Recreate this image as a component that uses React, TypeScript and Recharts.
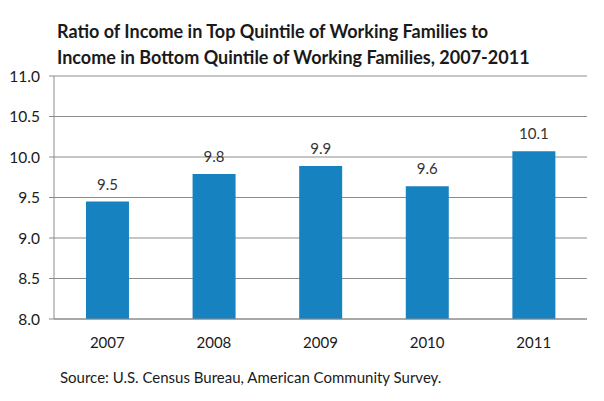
import React from "react";
import { BarChart, Bar, XAxis, YAxis, CartesianGrid, LabelList } from "recharts";

const years = ["2007", "2008", "2009", "2010", "2011"];
const ratios = [9.45, 9.79, 9.89, 9.64, 10.07];
const ratioLabels = ["9.5", "9.8", "9.9", "9.6", "10.1"];
const yTicks = [8.0, 8.5, 9.0, 9.5, 10.0, 10.5, 11.0];
const boundaryTicks = [0, 1, 2, 3, 4, 5];
const titleLines = [
  "Ratio of Income in Top Quintile of Working Families to",
  "Income in Bottom Quintile of Working Families, 2007-2011",
];
const sourceText = "Source: U.S. Census Bureau, American Community Survey.";

const data = years.map((y, i) => ({ year: y, ratio: ratios[i], label: ratioLabels[i] }));

const FONT = "Lato, 'Open Sans', sans-serif";
const GRID = "#8c8c8c";
const BAR = "#1782c0";

export default function App() {
  return (
    <div style={{ position: "absolute", left: 0, top: 0, width: 604, height: 401, background: "#fff", fontFamily: FONT }}>
      <div style={{ position: "absolute", left: 57, top: 18, fontWeight: 700, fontSize: 18, lineHeight: "26px", color: "#1a1a1a", whiteSpace: "nowrap" }}>
        {titleLines.map((t) => (
          <div key={t}>{t}</div>
        ))}
      </div>
      <BarChart
        width={604}
        height={401}
        data={data}
        margin={{ top: 76, right: 17, left: 0, bottom: 52 }}
        barCategoryGap="30%"
      >
        <CartesianGrid vertical={false} stroke={GRID} strokeWidth={1} />
        <XAxis
          xAxisId="edges"
          type="number"
          domain={[0, 5]}
          ticks={boundaryTicks}
          tick={false}
          tickSize={5}
          axisLine={false}
          tickLine={{ stroke: GRID }}
          height={0}
          allowDataOverflow
        />
        <XAxis
          dataKey="year"
          tickLine={false}
          axisLine={{ stroke: GRID }}
          tick={{ fill: "#1a1a1a", fontSize: 15, fontFamily: FONT }}
          tickMargin={12}
          height={30}
        />
        <YAxis
          domain={[8, 11]}
          ticks={yTicks}
          tickFormatter={(v: number) => v.toFixed(1)}
          tick={{ fill: "#1a1a1a", fontSize: 15.5, fontFamily: FONT }}
          tickLine={{ stroke: GRID }}
          tickSize={5}
          tickMargin={9}
          axisLine={{ stroke: GRID }}
          width={54}
          interval={0}
        />
        <Bar dataKey="ratio" fill={BAR} isAnimationActive={false}>
          <LabelList dataKey="label" position="top" offset={12} fill="#333" fontSize={15} fontFamily={FONT} />
        </Bar>
      </BarChart>
      <div style={{ position: "absolute", left: 60, top: 368, fontSize: 15, color: "#1a1a1a", whiteSpace: "nowrap" }}>
        {sourceText}
      </div>
    </div>
  );
}
